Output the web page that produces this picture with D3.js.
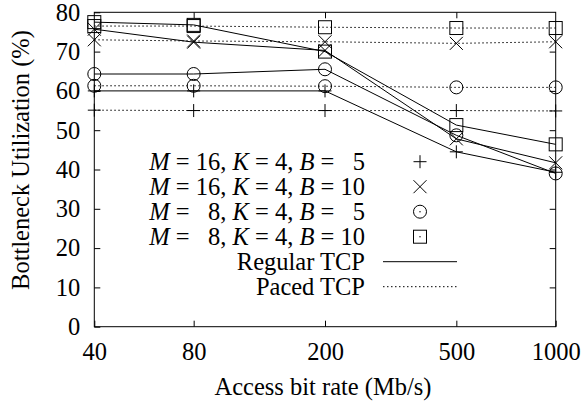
<!DOCTYPE html>
<html>
<head>
<meta charset="utf-8">
<script src="https://cdn.jsdelivr.net/npm/d3@7"></script>
<style>
  html, body { margin: 0; padding: 0; background: #fff; }
  svg { display: block; }
  text { font-family: "Liberation Serif", "Times New Roman", serif; fill: #000; }
</style>
</head>
<body>
<svg id="chart" width="583" height="408"></svg>
<script>
// ---- data ----
const rates = [40, 80, 200, 500, 1000];
const xTickLabels = ["40", "80", "200", "500", "1000"];
const yTicks = [0, 10, 20, 30, 40, 50, 60, 70, 80];

// Regular TCP (solid)
const regM16B5  = [60.0, 60.0, 60.0, 44.5, 39.3];
const regM16B10 = [75.7, 72.4, 70.3, 47.8, 41.7];
const regM8B5   = [64.3, 64.3, 65.5, 48.7, 39.0];
const regM8B10  = [77.5, 76.8, 70.0, 51.3, 46.4];

// Paced TCP (dotted)
const pacM16B5  = [55.1, 55.0, 55.0, 55.0, 54.9];
const pacM16B10 = [73.0, 72.7, 72.5, 72.1, 72.5];
const pacM8B5   = [61.3, 61.3, 61.2, 60.9, 60.9];
const pacM8B10  = [76.5, 76.5, 76.2, 76.0, 76.0];

const seriesLabels = [
  ["M", " = 16, ", "K", " = 4, ", "B", " = \u20075"],
  ["M", " = 16, ", "K", " = 4, ", "B", " = 10"],
  ["M", " = \u20078, ", "K", " = 4, ", "B", " = \u20075"],
  ["M", " = \u20078, ", "K", " = 4, ", "B", " = 10"]
];
const markers = ["plus", "cross", "circle", "square"];
const lineLabels = ["Regular TCP", "Paced TCP"];

// ---- layout ----
const svg = d3.select("#chart");
const L = 94.3, R = 555.7, T = 12.3, B = 326.7;
const fs = 24.5;

const x = d3.scaleLog().domain([40, 1000]).range([L, R]);
const y = d3.scaleLinear().domain([0, 80]).range([B, T]);

// frame
svg.append("rect").attr("x", L).attr("y", T).attr("width", R - L).attr("height", B - T)
  .attr("fill", "none").attr("stroke", "#000").attr("stroke-width", 1);

// axes with inward ticks (mirrored)
const tl = 6;
const yAxisL = d3.axisLeft(y).tickValues(yTicks).tickSize(-tl).tickPadding(tl + 8);
svg.append("g").attr("transform", `translate(${L},0)`).call(yAxisL);
const yAxisR = d3.axisRight(y).tickValues(yTicks.slice(1, -1)).tickSize(-tl).tickFormat("");
svg.append("g").attr("transform", `translate(${R},0)`).call(yAxisR);
const xAxisB = d3.axisBottom(x).tickValues(rates).tickSize(-tl).tickPadding(tl + 10)
  .tickFormat((d, i) => xTickLabels[i]);
svg.append("g").attr("transform", `translate(0,${B})`).call(xAxisB);
const xAxisT = d3.axisTop(x).tickValues(rates.slice(1, -1)).tickSize(-tl).tickFormat("");
svg.append("g").attr("transform", `translate(0,${T})`).call(xAxisT);
svg.selectAll(".domain").remove();
svg.selectAll(".tick line").attr("stroke", "#000");
svg.selectAll(".tick text").attr("font-size", fs).attr("fill", "#000");

// axis titles
svg.append("text").attr("x", 323).attr("y", 395).attr("text-anchor", "middle")
  .attr("font-size", fs).text("Access bit rate (Mb/s)");
svg.append("text").attr("transform", "translate(29,160) rotate(-90)").attr("text-anchor", "middle")
  .attr("font-size", fs).text("Bottleneck Utilization (%)");

// marker drawing
function drawMarker(g, type, cx, cy, dot) {
  const s = 6.5;
  if (type === "plus") {
    g.append("path").attr("d", `M${cx - s},${cy}H${cx + s}M${cx},${cy - s}V${cy + s}`)
      .attr("stroke", "#000").attr("fill", "none");
  } else if (type === "cross") {
    g.append("path").attr("d", `M${cx - s},${cy - s}L${cx + s},${cy + s}M${cx - s},${cy + s}L${cx + s},${cy - s}`)
      .attr("stroke", "#000").attr("fill", "none");
  } else if (type === "circle") {
    g.append("circle").attr("cx", cx).attr("cy", cy).attr("r", s)
      .attr("stroke", "#000").attr("fill", "none");
    if (dot) g.append("circle").attr("cx", cx).attr("cy", cy).attr("r", 0.7).attr("fill", "#000");
  } else if (type === "square") {
    g.append("rect").attr("x", cx - s).attr("y", cy - s).attr("width", 2 * s).attr("height", 2 * s)
      .attr("stroke", "#000").attr("fill", "none");
    if (dot) g.append("circle").attr("cx", cx).attr("cy", cy).attr("r", 0.7).attr("fill", "#000");
  }
}

const regular = [regM16B5, regM16B10, regM8B5, regM8B10];
const paced = [pacM16B5, pacM16B10, pacM8B5, pacM8B10];
const line = d3.line().x((d, i) => x(rates[i])).y(d => y(d));

const plot = svg.append("g");
paced.forEach(vals => {
  plot.append("path").attr("d", line(vals)).attr("fill", "none").attr("stroke", "#000")
    .attr("stroke-width", 1).attr("stroke-dasharray", "1.5,2.5");
});
regular.forEach(vals => {
  plot.append("path").attr("d", line(vals)).attr("fill", "none").attr("stroke", "#000")
    .attr("stroke-width", 1);
});
[regular, paced].forEach(group => {
  group.forEach((vals, k) => {
    vals.forEach((v, i) => drawMarker(plot, markers[k], x(rates[i]), y(v), false));
  });
});

// legend
const lgX = 365, lgSym = 420, lgL0 = 383, lgL1 = 457;
const rowY = [161.7, 186.7, 211.7, 236.7, 261.7, 286.7];
const lg = svg.append("g");
seriesLabels.forEach((parts, k) => {
  const t = lg.append("text").attr("x", lgX).attr("y", rowY[k]).attr("dy", "0.35em")
    .attr("text-anchor", "end").attr("font-size", fs).style("white-space", "pre");
  parts.forEach((p, j) => {
    t.append("tspan").attr("font-style", (j % 2 === 0) ? "italic" : "normal").text(p);
  });
  drawMarker(lg, markers[k], lgSym, rowY[k], true);
});
lineLabels.forEach((lab, j) => {
  const yy = rowY[4 + j];
  lg.append("text").attr("x", lgX).attr("y", yy).attr("dy", "0.35em")
    .attr("text-anchor", "end").attr("font-size", fs).text(lab);
  lg.append("line").attr("x1", lgL0).attr("x2", lgL1).attr("y1", yy).attr("y2", yy)
    .attr("stroke", "#000").attr("stroke-width", 1)
    .attr("stroke-dasharray", j === 1 ? "1.5,2.5" : null);
});
</script>
</body>
</html>
